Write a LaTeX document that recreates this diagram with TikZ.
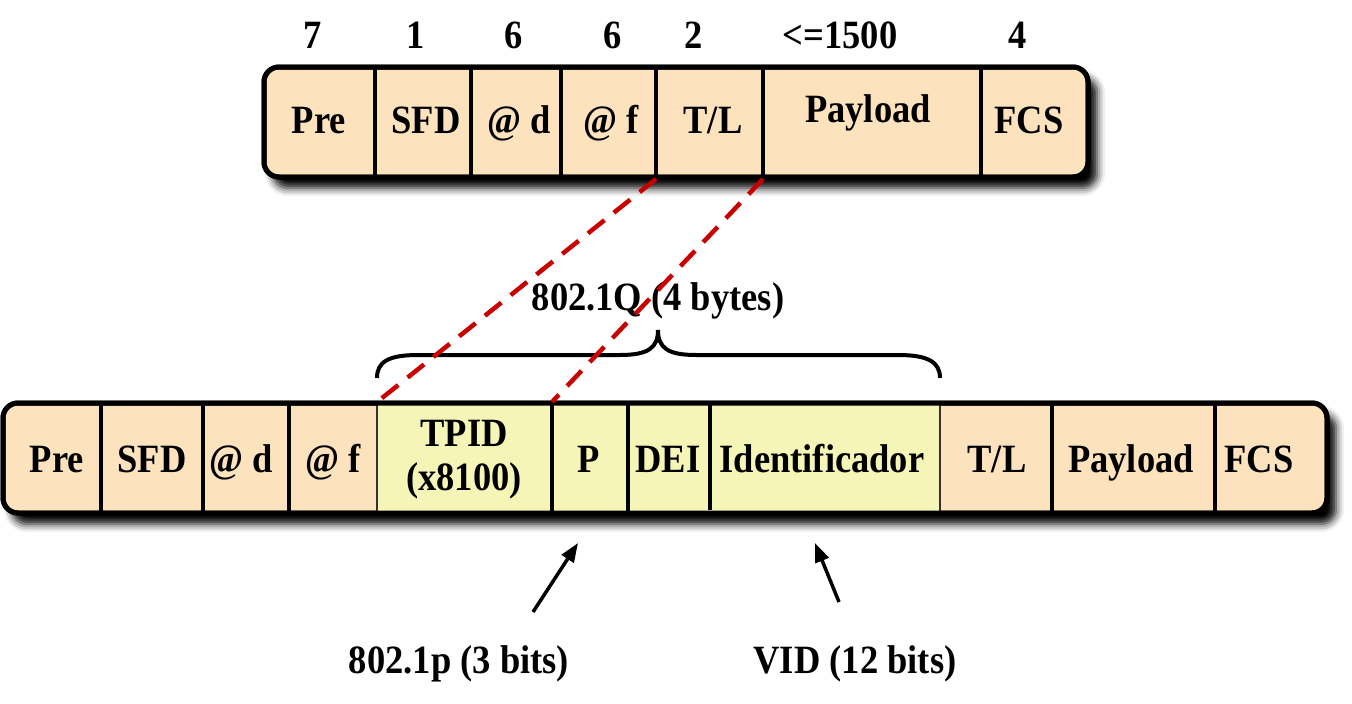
\documentclass[tikz,border=0pt]{standalone}
\usepackage{fontspec}
\setmainfont{Liberation Serif}
\usepackage{graphicx}
\usetikzlibrary{shadows.blur,arrows.meta}
\definecolor{cellorange}{RGB}{252,227,190}
\definecolor{cellyellow}{RGB}{244,245,183}
\definecolor{tagred}{RGB}{200,0,0}
\newcommand{\vstr}[1]{\scalebox{1}[1.1]{#1}}
\begin{document}
\begin{tikzpicture}[x=1pt,y=-1pt,
  lbl/.style={font=\fontsize{36.5}{40}\selectfont\bfseries, inner sep=0pt, anchor=base},
  frame/.style={draw=black, line width=5pt, rounded corners=15pt},
  shad/.style={blur shadow={shadow xshift=9pt, shadow yshift=-11pt, shadow blur radius=8pt, shadow opacity=100}},
  divider/.style={draw=black, line width=3.5pt},
  seam/.style={draw=black!80, line width=1.8pt},
  tagline/.style={draw=tagred, line width=4.5pt, dash pattern=on 21pt off 12pt},
  pointer/.style={draw=black, line width=3.5pt, -{Triangle[length=19pt,width=14pt]}},
  bracepath/.style={draw=black, line width=4pt}]

\useasboundingbox (0,0) rectangle (1352,704);

% ---------------- top frame ----------------
\path[frame, fill=cellorange, shad] (264,67) rectangle (1088,177);
\foreach \x in {375,471,561,656,763,981} \draw[divider] (\x,67) -- (\x,177);
\draw[frame] (264,67) rectangle (1088,177);

\node[lbl] (tpre) at (319,133) {\vstr{Pre}};
\node[lbl] (tsfd) at (426,133) {\vstr{SFD}};
\node[lbl] (tad)  at (519,133) {\vstr{@ d}};
\node[lbl] (taf)  at (611,133) {\vstr{@ f}};
\node[lbl] (ttl)  at (713,133) {\vstr{T/L}};
\node[lbl] (tpay) at (868,122) {\vstr{Payload}};
\node[lbl] (tfcs) at (1029,133) {\vstr{FCS}};

\node[lbl] (n1) at (313,48) {\vstr{7}};
\node[lbl] (n2) at (416,48) {\vstr{1}};
\node[lbl] (n3) at (514,48) {\vstr{6}};
\node[lbl] (n4) at (613,48) {\vstr{6}};
\node[lbl] (n5) at (694,48) {\vstr{2}};
\node[lbl] (n6) at (840,48) {\vstr{<=1500}};
\node[lbl] (n7) at (1018,48) {\vstr{4}};

% ---------------- bottom frame ----------------
\path[frame, fill=cellorange, shad] (3,403) rectangle (1327,513);
\fill[cellyellow] (377,403) rectangle (940,513);
\foreach \x in {101,203,289,552,628,1052,1215} \draw[divider] (\x,403) -- (\x,513);
\draw[divider] (710,403) -- (710,510);
\foreach \x in {377,940} \draw[seam] (\x,403) -- (\x,513);
\draw[frame] (3,403) rectangle (1327,513);

\node[lbl] (bpre)  at (57,472)   {\vstr{Pre}};
\node[lbl] (bsfd)  at (152,472)  {\vstr{SFD}};
\node[lbl] (bad)   at (241,472)  {\vstr{@ d}};
\node[lbl] (baf)   at (333,472)  {\vstr{@ f}};
\node[lbl] (btpid) at (464,446)  {\vstr{TPID}};
\node[lbl] (btpv)  at (464,490)  {\vstr{(x8100)}};
\node[lbl] (bp)    at (589,472)  {\vstr{P}};
\node[lbl] (bdei)  at (668,472)  {\vstr{DEI}};
\node[lbl] (bid)   at (822,472)  {\vstr{Identificador}};
\node[lbl] (btl)   at (997,472)  {\vstr{T/L}};
\node[lbl] (bpay)  at (1131,472) {\vstr{Payload}};
\node[lbl] (bfcs)  at (1259,472) {\vstr{FCS}};

% ---------------- brace ----------------
\draw[bracepath] (377,378) .. controls (377,362) and (388,355) .. (418,355)
  -- (620,355) .. controls (648,355) and (658,348) .. (658,330)
  .. controls (658,348) and (668,355) .. (696,355)
  -- (898,355) .. controls (928,355) and (940,362) .. (940,378);
\node[lbl] (qlabel) at (658,310) {\vstr{802.1Q (4 bytes)}};

% ---------------- red dashed connectors ----------------
\coordinate (tTL)  at (656,179);
\coordinate (tPay) at (763,179);
\coordinate (bTP)  at (377,402);
\coordinate (bPP)  at (552,402);
\draw[tagline] (tTL) -- (bTP);
\draw[tagline] (tPay) -- (bPP);

% ---------------- pointers ----------------
\coordinate (pTail) at (533,612);
\coordinate (pTip)  at (578,543);
\coordinate (vTail) at (839,602);
\coordinate (vTip)  at (815,543);
\draw[pointer] (pTail) -- (pTip);
\draw[pointer] (vTail) -- (vTip);
\node[lbl] (plabel) at (459,673) {\vstr{802.1p (3 bits)}};
\node[lbl] (vlabel) at (855,673) {\vstr{VID (12 bits)}};
\end{tikzpicture}
\end{document}
